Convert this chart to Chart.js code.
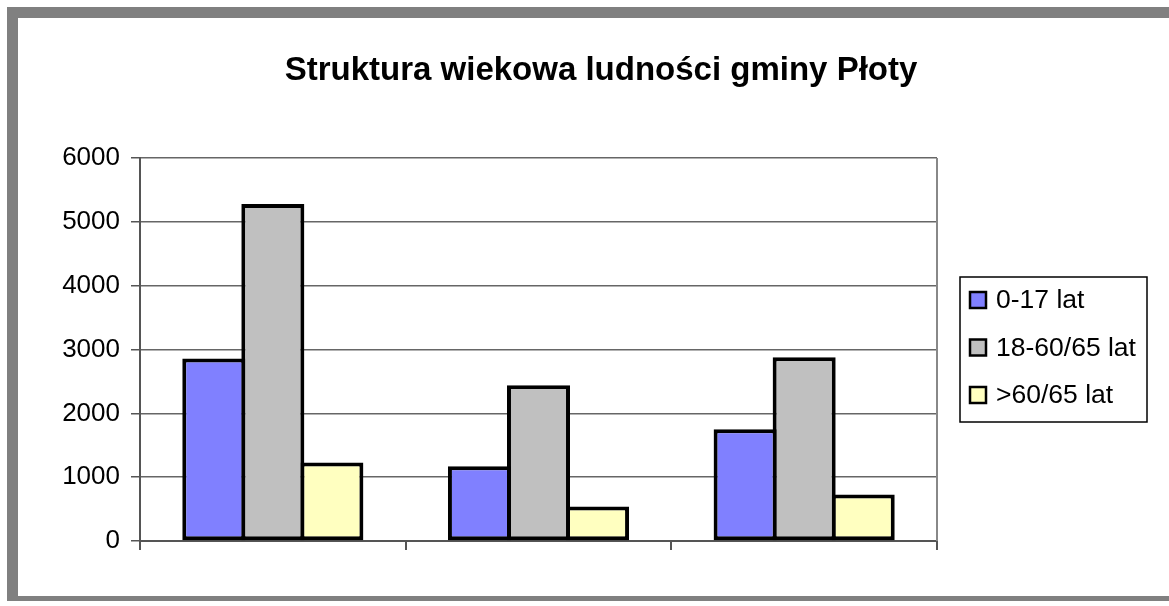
<!DOCTYPE html>
<html>
<head>
<meta charset="utf-8">
<script src="https://cdn.jsdelivr.net/npm/chart.js@4"></script>
<style>
  body { margin: 0; background: #fff; }
  #frame {
    position: absolute; left: 7px; top: 7px;
    width: 1162px; height: 594px;
    border-top: 11px solid #808080;
    border-left: 11px solid #808080;
    border-bottom: 5px solid #808080;
    box-sizing: border-box;
  }
  #myChart { position: absolute; left: 18px; top: 18px; }
</style>
</head>
<body>
<div id="frame"></div>
<canvas id="myChart" width="1151" height="583"></canvas>
<script>
// Data
const chartTitle = 'Struktura wiekowa ludności gminy Płoty'
const categories = ['', '', '']
const seriesLabels = ['0-17 lat', '18-60/65 lat', '>60/65 lat']
const young = [2860, 1170, 1750]
const working = [5280, 2440, 2880]
const old = [1230, 540, 730]
const yTicks = [0, 1000, 2000, 3000, 4000, 5000, 6000]
const colors = ['#8080FF', '#C0C0C0', '#FFFFC0']

const font = 'Arial, "Liberation Sans", sans-serif'
const border = 4

// title, right border of plot, boxed legend
const extras = {
  id: 'extras',
  afterDraw (chart) {
    const ctx = chart.ctx
    const a = chart.chartArea
    ctx.save()
    ctx.fillStyle = '#000'
    ctx.font = 'bold 33px ' + font
    ctx.textAlign = 'center'
    ctx.textBaseline = 'middle'
    ctx.fillText(chartTitle, 583, 53)
    ctx.textAlign = 'left'

    ctx.strokeStyle = '#888'
    ctx.lineWidth = 2
    ctx.beginPath()
    ctx.moveTo(a.right, a.top)
    ctx.lineTo(a.right, a.bottom)
    ctx.stroke()

    // legend
    const w = 187, h = 145
    const lx = a.right + 23
    const ly = (a.top + a.bottom) / 2 - h / 2
    ctx.strokeStyle = '#000'
    ctx.lineWidth = 1.5
    ctx.strokeRect(lx, ly, w, h)
    ctx.font = '26.5px ' + font
    chart.data.datasets.forEach((ds, i) => {
      const cy = ly + 23 + i * 47.5
      ctx.fillStyle = ds.backgroundColor
      ctx.fillRect(lx + 10, cy - 8, 16, 16)
      ctx.lineWidth = 2.5
      ctx.strokeStyle = '#000'
      ctx.strokeRect(lx + 10, cy - 8, 16, 16)
      ctx.fillStyle = '#000'
      ctx.fillText(ds.label, lx + 36, cy + 1)
    })
    ctx.restore()
  }
}

const ctx = document.getElementById('myChart').getContext('2d')
new Chart(ctx, {
  type: 'bar',
  data: {
    labels: categories,
    datasets: [young, working, old].map((d, i) => ({
      label: seriesLabels[i],
      data: d,
      backgroundColor: colors[i],
      borderColor: '#000',
      borderWidth: border,
      borderSkipped: false,
      categoryPercentage: 3 / 4.5,
      // widen bars so neighbouring borders overlap into one
      barPercentage: (59 + border) / 59
    }))
  },
  options: {
    responsive: false,
    animation: false,
    layout: { padding: { left: 0, right: 232, top: 140, bottom: 0 } },
    plugins: {
      legend: { display: false },
      tooltip: { enabled: false },
      title: { display: false }
    },
    scales: {
      x: {
        grid: {
          offset: true,
          drawOnChartArea: false,
          drawTicks: true,
          tickLength: 9,
          color: '#555',
          lineWidth: 2
        },
        border: { color: '#555', width: 2 },
        ticks: { display: false },
        afterFit (scale) { scale.height = 60 }
      },
      y: {
        min: 0,
        max: 6000,
        afterBuildTicks (scale) { scale.ticks = yTicks.map(v => ({ value: v })) },
        grid: { color: '#666', lineWidth: 1.5, tickLength: 9, tickColor: '#555' },
        border: { color: '#555', width: 2 },
        ticks: {
          color: '#000',
          padding: 11,
          font: { family: font, size: 26 },
          callback: v => String(v)
        },
        afterFit (scale) { scale.width = 122 }
      }
    }
  },
  plugins: [extras]
})
</script>
</body>
</html>
